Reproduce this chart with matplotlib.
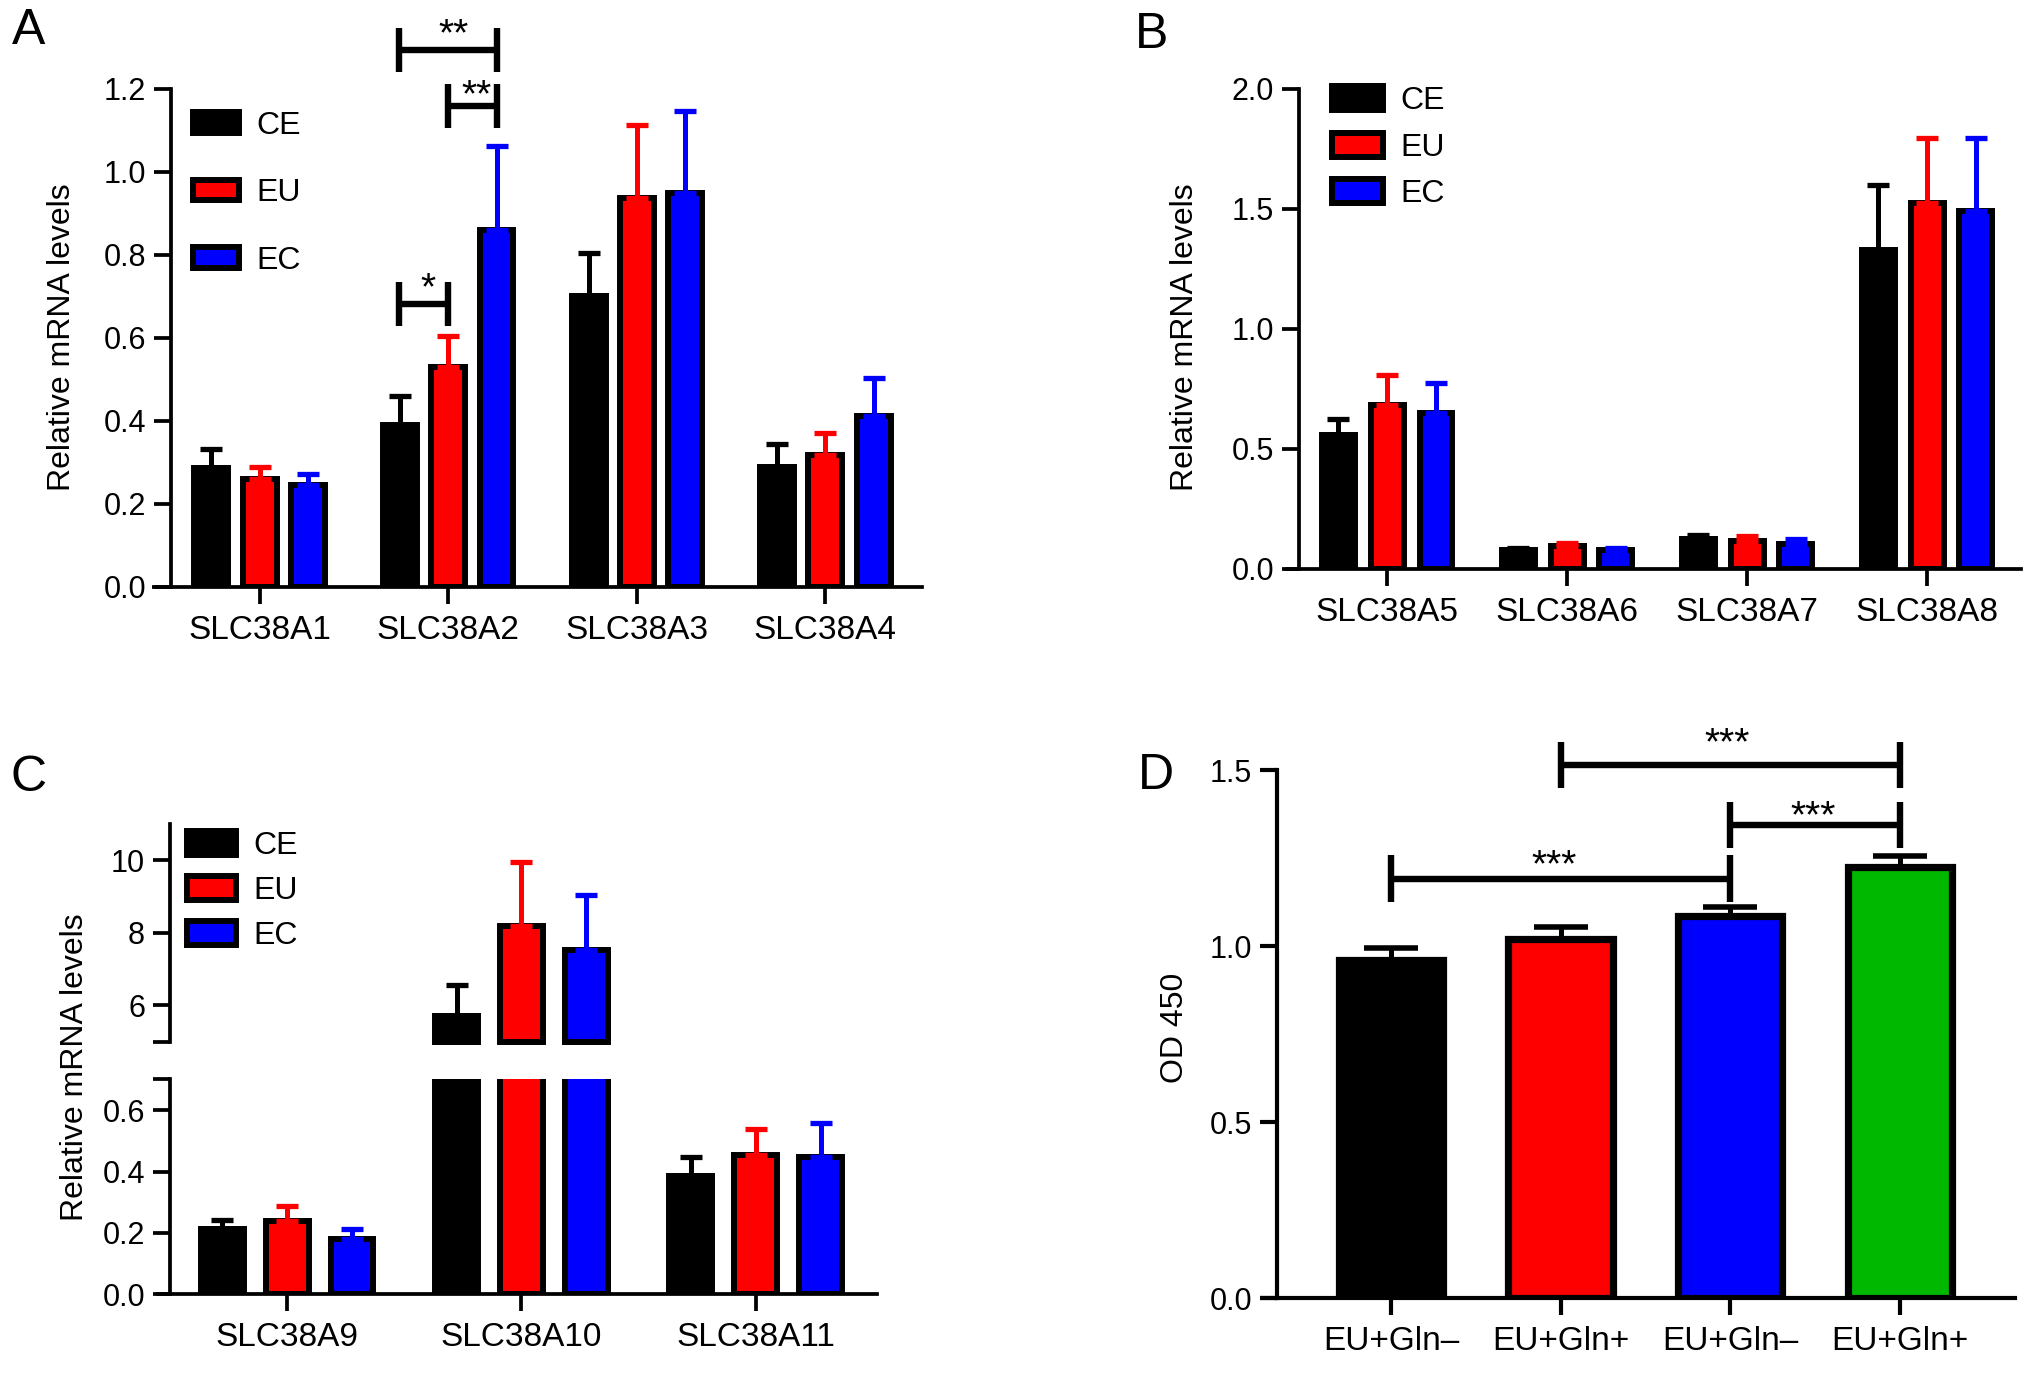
import numpy as np
import matplotlib
matplotlib.use("Agg")
import matplotlib.pyplot as plt

plt.rcParams['font.family'] = ['Liberation Sans', 'DejaVu Sans']

# ---------------- data ----------------
groups = ["CE", "EU", "EC"]
colors = ["#000000", "#FF0000", "#0000FF"]

genes_a = ["SLC38A1", "SLC38A2", "SLC38A3", "SLC38A4"]
a_ce = [0.287, 0.390, 0.700, 0.289]
a_eu = [0.261, 0.530, 0.937, 0.317]
a_ec = [0.245, 0.860, 0.950, 0.412]
a_ce_sd = [0.045, 0.069, 0.104, 0.056]
a_eu_sd = [0.029, 0.074, 0.176, 0.054]
a_ec_sd = [0.026, 0.203, 0.198, 0.092]

genes_b = ["SLC38A5", "SLC38A6", "SLC38A7", "SLC38A8"]
b_ce = [0.560, 0.078, 0.124, 1.327]
b_eu = [0.684, 0.095, 0.115, 1.526]
b_ec = [0.651, 0.077, 0.104, 1.493]
b_ce_sd = [0.065, 0.009, 0.018, 0.272]
b_eu_sd = [0.124, 0.014, 0.022, 0.270]
b_ec_sd = [0.124, 0.009, 0.020, 0.303]

genes_c = ["SLC38A9", "SLC38A10", "SLC38A11"]
c_ce = [0.2135, 5.70, 0.387]
c_eu = [0.239, 8.18, 0.455]
c_ec = [0.182, 7.54, 0.448]
c_ce_sd = [0.029, 0.87, 0.061]
c_eu_sd = [0.049, 1.78, 0.083]
c_ec_sd = [0.031, 1.51, 0.111]

d_labels = ["EU+Gln\u2013", "EU+Gln+", "EU+Gln\u2013", "EU+Gln+"]
d_vals = [0.960, 1.020, 1.086, 1.224]
d_sd = [0.035, 0.034, 0.025, 0.033]
d_colors = ["#000000", "#FF0000", "#0000FF", "#00B800"]

# significance annotations: (left x, right x, bracket level, half-height, label)
sig_a = [(0.74, 1.0, 0.683, 0.053, "*"),
         (1.0, 1.26, 1.158, 0.053, "**"),
         (0.74, 1.26, 1.295, 0.053, "**")]
sig_a_text = [(0.89, 0.717), (1.15, 1.182), (1.03, 1.330)]
sig_d = [(0, 2, 1.192, 0.066, "***"),
         (2, 3, 1.344, 0.066, "***"),
         (1, 3, 1.515, 0.066, "***")]
sig_d_text = [(0.96, 1.226), (2.49, 1.367), (1.98, 1.574)]

# ---------------- style ----------------
LW = 2.7
BLW = 4.3
TICKFS = 22
XTFS = 24
LABFS = 23
STARFS = 28

fig = plt.figure(figsize=(20.32, 13.73), dpi=100)


def style_axis(ax, xext=0.022, lw=LW):
    for s in ["top", "right"]:
        ax.spines[s].set_visible(False)
    for s in ["left", "bottom"]:
        ax.spines[s].set_linewidth(lw)
    ax.tick_params(axis="both", direction="out", length=12, width=lw,
                   labelsize=TICKFS, pad=6)
    ax.tick_params(axis="x", labelsize=XTFS, pad=8)
    ax.plot([-xext, 0], [0, 0], transform=ax.transAxes, color="black",
            lw=lw, clip_on=False, solid_capstyle="butt")


def grouped(ax, n, means, sds, width, offset, clip=True, bottom=0.0,
            only=None):
    x = np.arange(n)
    conts = []
    for k, (m, s, c) in enumerate(zip(means, sds, colors)):
        xs = x + (k - 1) * offset
        m = np.asarray(m, float)
        s = np.asarray(s, float)
        idx = np.arange(n) if only is None else np.asarray(only)
        bc = ax.bar(xs[idx], m[idx] - bottom, width, bottom=bottom, color=c,
                    edgecolor="black", linewidth=BLW, zorder=2,
                    label=groups[k])
        for p in bc:
            p.set_clip_on(clip)
        ax.errorbar(xs[idx], m[idx], yerr=[np.zeros(len(idx)), s[idx]],
                    fmt="none", ecolor=c, elinewidth=3.6, capsize=8,
                    capthick=3.8, zorder=3)
        conts.append(bc)
    return conts


def legend(ax, conts, ax_xy, hl, hh, ls):
    ax.legend(conts, groups, loc="upper left", bbox_to_anchor=ax_xy,
              frameon=False, fontsize=23, handlelength=hl, handleheight=hh,
              labelspacing=ls, handletextpad=0.55, borderpad=0,
              borderaxespad=0)


def bracket(ax, x0, x1, y, h, lw=4.6):
    for xx in (x0, x1):
        ax.plot([xx, xx], [y - h, y + h], color="black", lw=lw,
                clip_on=False, solid_capstyle="butt")
    ax.plot([x0, x1], [y, y], color="black", lw=lw, clip_on=False,
            solid_capstyle="butt")


# ---------------- Panel A ----------------
axA = fig.add_axes([0.0842, 0.5725, 0.4535 - 0.0842, 0.9352 - 0.5725])
style_axis(axA, 0.025)
contA = grouped(axA, 4, [a_ce, a_eu, a_ec], [a_ce_sd, a_eu_sd, a_ec_sd],
                0.18, 0.256)
axA.set_xlim(-0.47, 3.51)
axA.set_ylim(0, 1.2)
axA.set_yticks(np.arange(0, 1.21, 0.2))
axA.set_yticklabels([f"{v:.1f}" for v in np.arange(0, 1.21, 0.2)])
axA.set_xticks(range(4))
axA.set_xticklabels(genes_a)
legend(axA, contA, (0.029, 0.956), 1.44, 0.63, 1.17)
for (x0, x1, y, h, lab), (tx, ty) in zip(sig_a, sig_a_text):
    bracket(axA, x0, x1, y, h)
    axA.text(tx, ty, lab, ha="center", va="center", fontsize=STARFS,
             clip_on=False)

# ---------------- Panel B ----------------
axB = fig.add_axes([0.6394, 0.5856, 0.9944 - 0.6394, 0.9352 - 0.5856])
style_axis(axB, 0.02)
contB = grouped(axB, 4, [b_ce, b_eu, b_ec], [b_ce_sd, b_eu_sd, b_ec_sd],
                0.183, 0.271)
axB.set_xlim(-0.489, 3.52)
axB.set_ylim(0, 2.0)
axB.set_yticks(np.arange(0, 2.01, 0.5))
axB.set_yticklabels([f"{v:.1f}" for v in np.arange(0, 2.01, 0.5)])
axB.set_xticks(range(4))
axB.set_xticklabels(genes_b)
legend(axB, contB, (0.046, 1.006), 1.58, 0.77, 0.52)

# ---------------- Panel C (broken axis) ----------------
c_means = [c_ce, c_eu, c_ec]
c_sds = [c_ce_sd, c_eu_sd, c_ec_sd]
axC1 = fig.add_axes([0.0837, 0.0572, 0.4318 - 0.0837, 0.2139 - 0.0572])
style_axis(axC1, 0.02)
grouped(axC1, 3, c_means, c_sds, 0.182, 0.277)
axC1.set_xlim(-0.50, 2.52)
axC1.set_ylim(0, 0.7)
axC1.set_yticks([0, 0.2, 0.4, 0.6, 0.7])
axC1.set_yticklabels(["0.0", "0.2", "0.4", "0.6", ""])
axC1.set_xticks(range(3))
axC1.set_xticklabels(genes_c)

axC2 = fig.add_axes([0.0837, 0.2413, 0.4318 - 0.0837, 0.3999 - 0.2413])
for s in ["top", "right", "bottom"]:
    axC2.spines[s].set_visible(False)
axC2.spines["left"].set_linewidth(LW)
axC2.tick_params(axis="y", direction="out", length=12, width=LW,
                 labelsize=TICKFS, pad=6)
axC2.set_xticks([])
axC2.set_xlim(-0.50, 2.52)
axC2.set_ylim(5, 11)
hi = [i for i in range(3) if max(m[i] for m in c_means) > 5]
contC = grouped(axC2, 3, c_means, c_sds, 0.182, 0.277, clip=False,
                bottom=5.0, only=hi)
axC2.set_yticks([5, 6, 8, 10])
axC2.set_yticklabels(["", "6", "8", "10"])
legend(axC2, contC, (0.024, 0.968), 1.52, 0.77, 0.47)

# ---------------- Panel D ----------------
axD = fig.add_axes([0.6286, 0.0544, 0.9918 - 0.6286, 0.4391 - 0.0544])
style_axis(axD, 0.024, lw=3.0)
xd = np.arange(len(d_vals))
axD.bar(xd, d_vals, 0.615, color=d_colors, edgecolor="black", linewidth=5.2,
        zorder=2)
axD.errorbar(xd, d_vals, yerr=[np.zeros(len(xd)), d_sd], fmt="none",
             ecolor="black", elinewidth=3.6, capsize=19.5, capthick=4.0,
             zorder=3)
axD.set_xlim(-0.67, 3.68)
axD.set_ylim(0, 1.5)
axD.set_yticks([0, 0.5, 1.0, 1.5])
axD.set_yticklabels(["0.0", "0.5", "1.0", "1.5"])
axD.set_xticks(xd)
axD.set_xticklabels(d_labels)
for (x0, x1, y, h, lab), (tx, ty) in zip(sig_d, sig_d_text):
    bracket(axD, x0, x1, y, h)
    axD.text(tx, ty, lab, ha="center", va="center", fontsize=STARFS,
             clip_on=False)

# ---------------- labels ----------------
fig.text(61.6 / 2032, 1 - 337 / 1373, "Relative mRNA levels", rotation=90,
         ha="center", va="center", fontsize=LABFS)
fig.text(1184.7 / 2032, 1 - 337 / 1373, "Relative mRNA levels", rotation=90,
         ha="center", va="center", fontsize=LABFS)
fig.text(74.6 / 2032, 1 - 1067 / 1373, "Relative mRNA levels", rotation=90,
         ha="center", va="center", fontsize=LABFS)
fig.text(1175 / 2032, 1 - 1027.7 / 1373, "OD 450", rotation=90,
         ha="center", va="center", fontsize=LABFS)

for lab, x, y in [("A", 29, 31), ("B", 1152, 35), ("C", 29, 778),
                  ("D", 1155.5, 776)]:
    fig.text(x / 2032, 1 - y / 1373, lab, ha="center", va="center",
             fontsize=36)

fig.savefig("out.png", dpi=100)
